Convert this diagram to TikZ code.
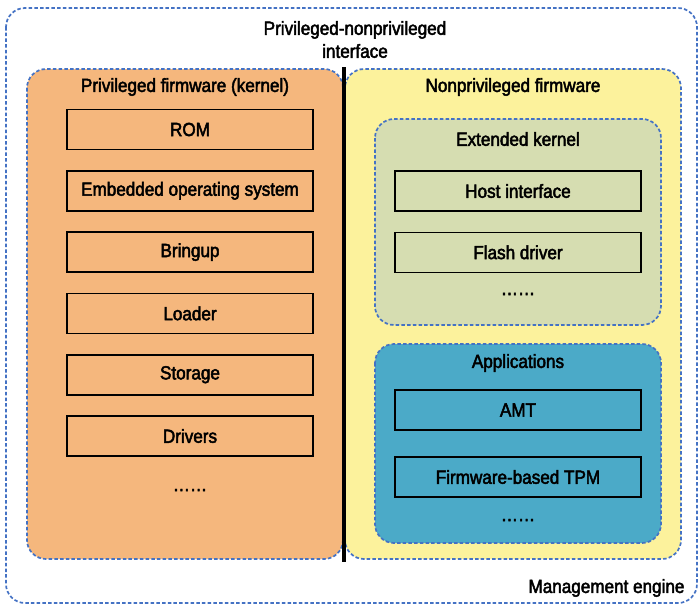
\documentclass[tikz,border=0pt]{standalone}
\usepackage{fontspec}
\setmainfont{Liberation Sans}[FakeStretch=0.9, FakeBold=2.5]
\usepackage{tikz}
\usetikzlibrary{positioning}
\definecolor{kernelorange}{HTML}{F5B77D}
\definecolor{useryellow}{HTML}{FCF29C}
\definecolor{extgreen}{HTML}{D6DDB1}
\definecolor{appblue}{HTML}{4BAAC8}
\definecolor{dashblue}{HTML}{4472C4}

\begin{document}
\begin{tikzpicture}[x=1pt, y=-1pt,
  every node/.style={font=\fontsize{19}{23}\selectfont},
  panel/.style={draw=dashblue, line width=1.7pt, dash pattern=on 3.5pt off 2.2pt, rounded corners=19pt},
  block/.style={draw=black, line width=1.6pt, minimum width=246pt, minimum height=40pt, inner sep=0pt}]
\useasboundingbox (0,0) rectangle (699,605);
% Outer frame
\draw[panel] (6,8) rectangle (697,603);
% Privileged / nonprivileged halves
\draw[panel, fill=kernelorange] (27,69) rectangle (343,559);
\draw[panel, fill=useryellow] (345,69) rectangle (681,559);
% Inner groups on the nonprivileged side
\draw[panel, fill=extgreen] (375,119) rectangle (661,325);
\draw[panel, fill=appblue] (375,344) rectangle (661,543);
% Interface line
\coordinate (ltop) at (344,67);
\coordinate (lbot) at (344,562);
\draw[line width=3.5pt] (ltop) -- (lbot);
% Titles
\node[align=center] (iface) at (355,39.5) {Privileged-nonprivileged\\interface};
\node[anchor=east] (mgmt) at (688,588) {Management engine};
\node (ktitle) at (185,87) {Privileged firmware (kernel)};
\node (utitle) at (513,87) {Nonprivileged firmware};
\node (xtitle) at (518,139) {Extended kernel};
\node (atitle) at (518,363) {Applications};
% ---- Kernel modules ----
\node[block] (rom) at (190,129.5) {ROM};
\node[block, below=19.7pt of rom] (eos) {Embedded operating system};
\node[block, below=19.7pt of eos] (bringup) {Bringup};
\node[block, below=19.7pt of bringup] (loader) {Loader};
\node[block, below=19.7pt of loader] (storage) {Storage};
\node[block, below=19.7pt of storage] (drivers) {Drivers};
\node (kdots) at (190,490) {……};
% ---- Extended kernel modules ----
\node[block] (host) at (518,191) {Host interface};
\node[block, below=19.7pt of host] (flash) {Flash driver};
\node (xdots) at (518,294) {……};
% ---- Applications ----
\node[block] (amt) at (518,410) {AMT};
\node[block, below=25.4pt of amt] (ftpm) {Firmware-based TPM};
\node (adots) at (518,520) {……};
\end{tikzpicture}
\end{document}
